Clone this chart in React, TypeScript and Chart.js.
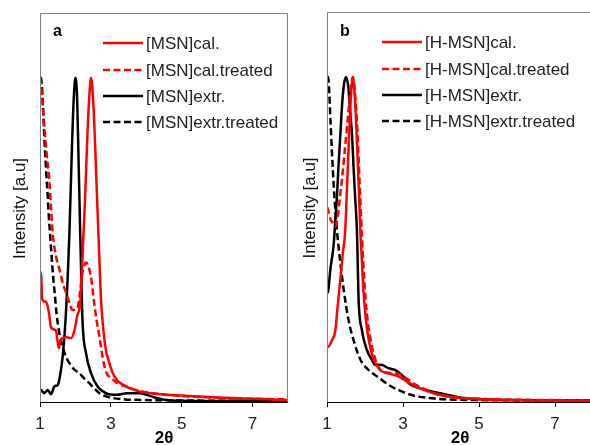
import React, { useEffect, useRef } from "react";
import { Chart, registerables } from "chart.js";

Chart.register(...registerables);

// ---------- Panel a ----------
const aCalX = [1.0, 1.03, 1.06, 1.12, 1.17, 1.26, 1.31, 1.45, 1.53, 1.58, 1.64, 1.75, 1.88, 1.97, 2.06, 2.13, 2.2, 2.27, 2.33, 2.39, 2.44, 2.5, 2.56, 2.62, 2.67, 2.72, 2.79, 2.86, 2.93, 3.05, 3.17, 3.3, 3.45, 3.65, 3.82, 4.2, 4.58, 5.0, 5.5, 6.0, 6.5, 7.0, 7.5, 8.0];
const aCalY = [0.40, 0.40, 0.32, 0.31, 0.31, 0.27, 0.23, 0.22, 0.166, 0.19, 0.197, 0.2, 0.197, 0.22, 0.27, 0.30, 0.45, 0.62, 0.8, 0.94, 1.0, 0.93, 0.78, 0.6, 0.46, 0.32, 0.22, 0.16, 0.13, 0.09, 0.068, 0.056, 0.047, 0.038, 0.032, 0.026, 0.022, 0.02, 0.017, 0.014, 0.012, 0.01, 0.008, 0.006];

const aCalTrX = [1.0, 1.05, 1.1, 1.16, 1.21, 1.26, 1.31, 1.36, 1.45, 1.52, 1.59, 1.66, 1.73, 1.83, 1.92, 2.0, 2.06, 2.13, 2.2, 2.3, 2.39, 2.46, 2.53, 2.6, 2.68, 2.75, 2.82, 2.88, 2.96, 3.07, 3.2, 3.45, 3.7, 4.0, 4.4, 4.8, 5.2, 5.6, 6.0, 6.5, 7.0, 7.5, 8.0];
const aCalTrY = [1.0, 0.96, 0.88, 0.8, 0.74, 0.69, 0.6, 0.52, 0.45, 0.42, 0.39, 0.36, 0.34, 0.305, 0.284, 0.285, 0.29, 0.34, 0.40, 0.43, 0.41, 0.37, 0.305, 0.25, 0.2, 0.15, 0.11, 0.089, 0.078, 0.068, 0.057, 0.047, 0.037, 0.03, 0.024, 0.02, 0.017, 0.015, 0.013, 0.011, 0.01, 0.009, 0.008];

const aExtX = [1.0, 1.03, 1.12, 1.22, 1.31, 1.4, 1.45, 1.5, 1.56, 1.64, 1.73, 1.78, 1.83, 1.9, 1.95, 2.0, 2.05, 2.09, 2.14, 2.2, 2.3, 2.44, 2.63, 2.86, 3.17, 3.45, 3.82, 4.2, 4.58, 5.0, 6.0, 7.0, 8.0];
const aExtY = [0.037, 0.037, 0.027, 0.037, 0.024, 0.047, 0.05, 0.052, 0.078, 0.14, 0.27, 0.38, 0.52, 0.78, 0.93, 1.0, 0.93, 0.74, 0.5, 0.25, 0.15, 0.089, 0.047, 0.027, 0.022, 0.027, 0.027, 0.015, 0.006, 0.004, 0.003, 0.003, 0.003];

const aExtTrX = [1.0, 1.03, 1.08, 1.12, 1.17, 1.22, 1.25, 1.29, 1.36, 1.42, 1.47, 1.55, 1.64, 1.73, 1.83, 1.97, 2.11, 2.25, 2.39, 2.53, 2.68, 2.85, 3.07, 3.4, 4.0, 5.0, 6.0, 7.0, 8.0];
const aExtTrY = [1.0, 1.0, 0.92, 0.82, 0.72, 0.63, 0.57, 0.51, 0.4, 0.33, 0.27, 0.21, 0.17, 0.14, 0.12, 0.1, 0.089, 0.072, 0.058, 0.042, 0.027, 0.018, 0.012, 0.008, 0.006, 0.005, 0.004, 0.004, 0.004];

// ---------- Panel b ----------
const bCalX = [1.0, 1.03, 1.13, 1.22, 1.26, 1.31, 1.35, 1.41, 1.48, 1.54, 1.6, 1.64, 1.68, 1.72, 1.77, 1.83, 1.88, 1.92, 1.96, 2.01, 2.1, 2.23, 2.4, 2.62, 2.89, 3.18, 3.45, 3.8, 4.15, 4.5, 4.85, 5.5, 6.0, 7.0, 8.0];
const bCalY = [0.17, 0.17, 0.19, 0.22, 0.27, 0.33, 0.375, 0.45, 0.53, 0.7, 0.87, 0.96, 1.0, 0.96, 0.85, 0.68, 0.52, 0.43, 0.34, 0.27, 0.19, 0.13, 0.098, 0.088, 0.078, 0.058, 0.042, 0.027, 0.018, 0.012, 0.009, 0.006, 0.005, 0.004, 0.004];

const bCalTrX = [1.0, 1.03, 1.1, 1.17, 1.22, 1.28, 1.33, 1.39, 1.48, 1.57, 1.64, 1.68, 1.72, 1.78, 1.85, 1.9, 1.95, 2.0, 2.07, 2.15, 2.25, 2.4, 2.57, 2.75, 2.92, 3.05, 3.18, 3.35, 3.53, 3.8, 4.15, 4.5, 5.0, 5.5, 6.0, 7.0, 8.0];
const bCalTrY = [0.6, 0.59, 0.56, 0.55, 0.54, 0.57, 0.62, 0.68, 0.79, 0.9, 0.98, 1.0, 0.97, 0.88, 0.7, 0.56, 0.44, 0.34, 0.25, 0.19, 0.14, 0.1, 0.09, 0.088, 0.086, 0.076, 0.066, 0.052, 0.042, 0.028, 0.018, 0.013, 0.01, 0.008, 0.007, 0.006, 0.005];

const bExtX = [1.0, 1.03, 1.09, 1.14, 1.18, 1.22, 1.26, 1.3, 1.35, 1.4, 1.45, 1.5, 1.56, 1.62, 1.66, 1.7, 1.74, 1.79, 1.83, 1.92, 2.05, 2.18, 2.27, 2.35, 2.45, 2.62, 2.8, 2.97, 3.18, 3.45, 3.7, 3.97, 4.5, 5.0, 5.5, 6.0, 7.0, 8.0];
const bExtY = [0.335, 0.34, 0.41, 0.45, 0.49, 0.56, 0.63, 0.72, 0.82, 0.92, 0.98, 1.0, 0.97, 0.88, 0.82, 0.72, 0.63, 0.52, 0.32, 0.22, 0.16, 0.13, 0.114, 0.115, 0.114, 0.104, 0.098, 0.083, 0.055, 0.042, 0.034, 0.027, 0.014, 0.009, 0.007, 0.006, 0.005, 0.005];

const bExtTrX = [1.0, 1.03, 1.09, 1.13, 1.18, 1.22, 1.26, 1.35, 1.44, 1.57, 1.7, 1.88, 2.1, 2.36, 2.66, 2.92, 3.27, 3.7, 4.15, 5.0, 6.0, 7.0, 8.0];
const bExtTrY = [1.0, 1.0, 0.87, 0.77, 0.66, 0.59, 0.53, 0.43, 0.345, 0.25, 0.19, 0.13, 0.098, 0.075, 0.05, 0.035, 0.02, 0.012, 0.008, 0.006, 0.005, 0.005, 0.005];

const xTicks = [1, 3, 5, 7];
const labelsA = ["[MSN]cal.", "[MSN]cal.treated", "[MSN]extr.", "[MSN]extr.treated"];
const labelsB = ["[H-MSN]cal.", "[H-MSN]cal.treated", "[H-MSN]extr.", "[H-MSN]extr.treated"];
const colors = ["#ff0000", "#ff0000", "#000000", "#000000"];
const dashed = [false, true, false, true];

const FONT = "'Liberation Sans', Arial, sans-serif";

function zip(xs: number[], ys: number[]) {
  return xs.map((x, i) => ({ x, y: ys[i] }));
}

type PanelCfg = {
  letter: string;
  labels: string[];
  series: [number[], number[]][];
  padTop: number;
  padRight: number;
  yWidth: number;
  legendX: number;
  legendY: number[];
  letterX: number;
  yTitleX: number;
};

function makeChart(canvas: HTMLCanvasElement, cfg: PanelCfg) {
  const overlay = {
    id: "overlay",
    afterDraw(chart: any) {
      const ctx = chart.ctx;
      const ca = chart.chartArea;
      ctx.save();
      // frame (top / right / left)
      ctx.strokeStyle = "#808080";
      ctx.lineWidth = 1;
      ctx.beginPath();
      ctx.moveTo(ca.left + 0.5, ca.bottom);
      ctx.lineTo(ca.left + 0.5, ca.top + 0.5);
      ctx.lineTo(ca.right - 0.5, ca.top + 0.5);
      ctx.lineTo(ca.right - 0.5, ca.bottom);
      ctx.stroke();
      // bottom axis
      ctx.strokeStyle = "#000";
      ctx.beginPath();
      ctx.moveTo(ca.left, ca.bottom + 0.5);
      ctx.lineTo(ca.right, ca.bottom + 0.5);
      ctx.stroke();
      // legend
      ctx.font = `17px ${FONT}`;
      ctx.textBaseline = "middle";
      ctx.textAlign = "left";
      cfg.labels.forEach((lab, i) => {
        const y = cfg.legendY[i];
        ctx.strokeStyle = colors[i];
        ctx.lineWidth = 2.5;
        ctx.setLineDash(dashed[i] ? [7, 3.5] : []);
        ctx.beginPath();
        ctx.moveTo(cfg.legendX, y);
        ctx.lineTo(cfg.legendX + 40, y);
        ctx.stroke();
        ctx.setLineDash([]);
        ctx.fillStyle = "#222";
        ctx.fillText(lab, cfg.legendX + 43, y + 1);
      });
      // panel letter
      ctx.font = `bold 16px ${FONT}`;
      ctx.fillStyle = "#000";
      ctx.fillText(cfg.letter, cfg.letterX, 32);
      // x title
      ctx.font = `bold 17px ${FONT}`;
      ctx.textAlign = "center";
      ctx.fillText("2θ", (ca.left + ca.right) / 2, 438);
      // y title
      ctx.font = `17px ${FONT}`;
      ctx.translate(cfg.yTitleX, (ca.top + ca.bottom) / 2 + 1);
      ctx.rotate(-Math.PI / 2);
      ctx.fillStyle = "#111";
      ctx.fillText("Intensity [a.u]", 0, 0);
      ctx.restore();
    },
  };

  return new Chart(canvas, {
    type: "line",
    data: {
      datasets: cfg.series.map(([xs, ys], i) => ({
        label: cfg.labels[i],
        data: zip(xs, ys),
        borderColor: colors[i],
        borderWidth: 2.5,
        borderDash: dashed[i] ? [7, 3.5] : [],
        pointRadius: 0,
        fill: false,
        cubicInterpolationMode: "monotone" as const,
      })),
    },
    options: {
      responsive: false,
      animation: false,
      events: [],
      layout: { padding: { left: 0, top: cfg.padTop, right: cfg.padRight, bottom: 0 } },
      plugins: { legend: { display: false }, tooltip: { enabled: false } },
      scales: {
        x: {
          type: "linear",
          min: 1,
          max: 8,
          afterBuildTicks: (s: any) => {
            s.ticks = xTicks.map((v) => ({ value: v }));
          },
          afterFit: (s: any) => {
            s.height = 43;
          },
          border: { display: false },
          grid: {
            display: true,
            drawOnChartArea: false,
            drawTicks: true,
            tickLength: 5,
            color: "#000",
          },
          ticks: {
            font: { family: FONT, size: 17 },
            color: "#222",
            padding: 7,
            maxRotation: 0,
          },
        },
        y: {
          type: "linear",
          min: 0,
          max: 1.2,
          afterFit: (s: any) => {
            s.width = cfg.yWidth;
          },
          border: { display: false },
          grid: { display: false },
          ticks: { display: false },
        },
      },
    },
    plugins: [overlay],
  } as any);
}

export default function App() {
  const refA = useRef<HTMLCanvasElement>(null);
  const refB = useRef<HTMLCanvasElement>(null);

  useEffect(() => {
    const a = makeChart(refA.current!, {
      letter: "a",
      labels: labelsA,
      series: [
        [aCalX, aCalY],
        [aCalTrX, aCalTrY],
        [aExtX, aExtY],
        [aExtTrX, aExtTrY],
      ],
      padTop: 13,
      padRight: 12,
      yWidth: 40,
      legendX: 103,
      legendY: [43, 70, 96, 122],
      letterX: 53,
      yTitleX: 20,
    });
    const b = makeChart(refB.current!, {
      letter: "b",
      labels: labelsB,
      series: [
        [bCalX, bCalY],
        [bCalTrX, bCalTrY],
        [bExtX, bExtY],
        [bExtTrX, bExtTrY],
      ],
      padTop: 12,
      padRight: 2,
      yWidth: 32,
      legendX: 87,
      legendY: [42, 69, 95, 121],
      letterX: 45,
      yTitleX: 15,
    });
    return () => {
      a.destroy();
      b.destroy();
    };
  }, []);

  return (
    <div
      style={{
        position: "fixed",
        left: 0,
        top: 0,
        width: 590,
        height: 445,
        overflow: "hidden",
        background: "#fff",
      }}
    >
      <canvas
        ref={refA}
        width={300}
        height={445}
        style={{ position: "absolute", left: 0, top: 0, width: 300, height: 445 }}
      />
      <canvas
        ref={refB}
        width={300}
        height={445}
        style={{ position: "absolute", left: 295, top: 0, width: 300, height: 445 }}
      />
    </div>
  );
}
